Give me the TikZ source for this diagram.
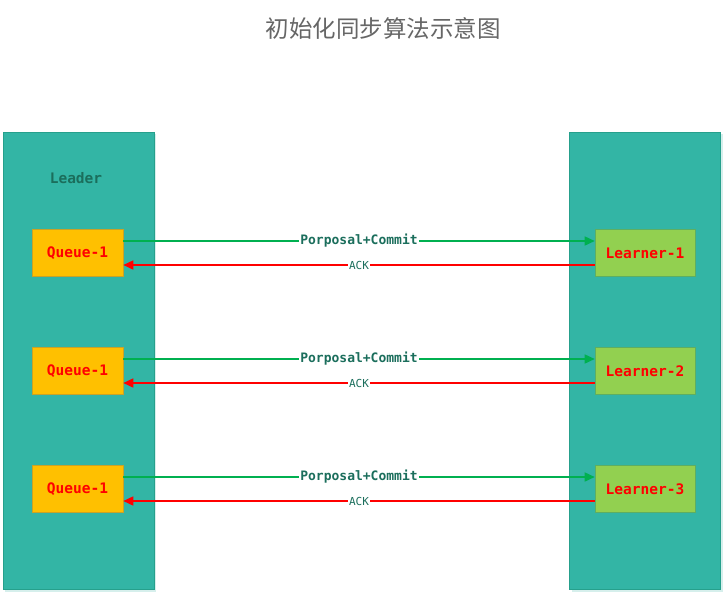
\documentclass[tikz,border=0pt]{standalone}
\usepackage{fontspec}
\setmonofont{DejaVu Sans Mono}
\newfontfamily\cjk{Noto Sans CJK SC}
\usetikzlibrary{arrows.meta}
\definecolor{tealbox}{HTML}{33B5A5}
\definecolor{tealedge}{HTML}{26A08C}
\definecolor{tealshadow}{HTML}{D6EFEC}
\definecolor{queuefill}{HTML}{FFC000}
\definecolor{queueedge}{HTML}{C9A227}
\definecolor{learnfill}{HTML}{92D050}
\definecolor{learnedge}{HTML}{5DAE62}
\definecolor{arrgreen}{HTML}{00B050}
\definecolor{arrred}{HTML}{FF0000}
\definecolor{labteal}{HTML}{1B6E5C}
\definecolor{titlegray}{HTML}{666666}
\tikzset{
  panel/.style={draw=tealedge, fill=tealbox, line width=0.8pt, anchor=north west, inner sep=0pt},
  queuebox/.style={draw=queueedge, fill=queuefill, line width=0.6pt, minimum width=91pt, minimum height=47pt, inner sep=0pt,
    text=arrred, font=\ttfamily\bfseries\fontsize{14.5}{16}\selectfont},
  learnbox/.style={draw=learnedge, fill=learnfill, line width=0.6pt, minimum width=100pt, minimum height=47pt, inner sep=0pt,
    text=arrred, font=\ttfamily\bfseries\fontsize{14.5}{16}\selectfont},
  sendarrow/.style={draw=arrgreen, line width=1.6pt, -{Triangle[length=10pt,width=9pt]}},
  ackarrow/.style={draw=arrred, line width=1.6pt, -{Triangle[length=10pt,width=9pt]}},
  sendlab/.style={fill=white, inner sep=1.5pt, text=labteal, font=\ttfamily\bfseries\fontsize{13}{14}\selectfont},
  acklab/.style={fill=white, inner sep=1.5pt, text=labteal, font=\ttfamily\fontsize{11}{12}\selectfont},
}
\begin{document}
\begin{tikzpicture}[x=1pt,y=-1pt]
\useasboundingbox (0,0) rectangle (723,592);
\fill[white] (0,0) rectangle (723,592);
% title
\node[text=titlegray, font=\cjk\fontsize{23.5}{26}\selectfont] (title) at (383,28) {初始化同步算法示意图};
% shadows
\fill[tealshadow] (5,134) rectangle (156,592);
\fill[tealshadow] (572,134) rectangle (723,592);
% panels
\node[panel, minimum width=151pt, minimum height=457pt] (leader) at (3,132) {};
\node[panel, minimum width=151pt, minimum height=457pt] (follower) at (569,132) {};
\node[text=labteal, font=\ttfamily\bfseries\fontsize{14.5}{16}\selectfont] (leaderlab) at (76,178) {Leader};
% rows
\foreach \i/\y in {1/253, 2/371, 3/489} {
  \node[queuebox] (q\i) at (77.5,\y) {Queue-1};
  \node[learnbox] (l\i) at (645,\y) {Learner-\i};
  \draw[sendarrow] ([yshift=12pt]q\i.east) -- node[sendlab]{Porposal+Commit} ([yshift=12pt]l\i.west);
  \draw[ackarrow] ([yshift=-12pt]l\i.west) -- node[acklab]{ACK} ([yshift=-12pt]q\i.east);
}
\end{tikzpicture}
\end{document}
